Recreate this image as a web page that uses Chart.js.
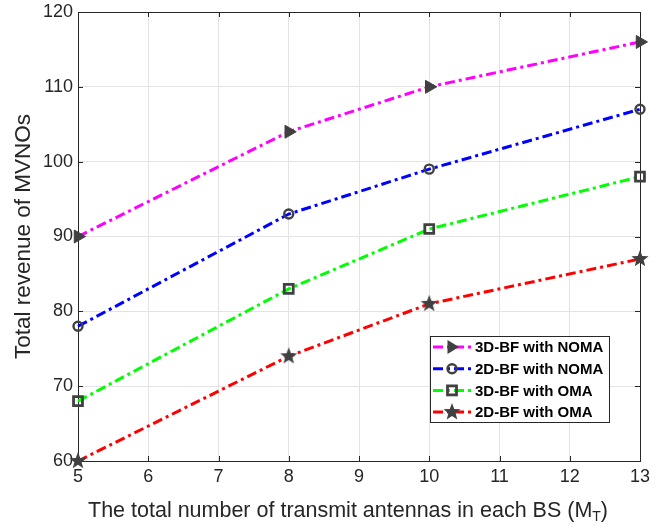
<!DOCTYPE html>
<html><head><meta charset="utf-8">
<script src="https://cdn.jsdelivr.net/npm/chart.js@4/dist/chart.umd.min.js"></script>
<style>html,body{margin:0;padding:0;background:#fff;}#wrap{width:670px;height:525px;}</style>
</head><body><div id="wrap"><canvas id="c" width="670" height="525"></canvas></div>
<script>
const antennas = [5, 8, 10, 13];
const bf3dNoma = [90, 104, 110, 116];
const bf2dNoma = [78, 93, 99, 107];
const bf3dOma = [68, 83, 91, 98];
const bf2dOma = [60, 74, 81, 87];
const seriesLabels = ['3D-BF with NOMA', '2D-BF with NOMA', '3D-BF with OMA', '2D-BF with OMA'];
const xTicks = [5, 6, 7, 8, 9, 10, 11, 12, 13];
const yTicks = [60, 70, 80, 90, 100, 110, 120];
const yTitle = 'Total revenue of MVNOs';
const xTitleMain = 'The total number of transmit antennas in each BS (M';
const xTitleSub = 'T';
const xTitleEnd = ')';

const MK = '#404040';
const FONT = '"Liberation Sans", Arial, sans-serif';

function starCanvas(R, r) {
  const s = Math.ceil(R * 2 + 2);
  const cv = document.createElement('canvas');
  cv.width = s; cv.height = s;
  const g = cv.getContext('2d');
  drawStar(g, s / 2, s / 2, R, r);
  return cv;
}
function drawStar(g, cx, cy, R, r) {
  g.beginPath();
  for (let i = 0; i < 10; i++) {
    const a = -Math.PI / 2 + i * Math.PI / 5;
    const rr = i % 2 === 0 ? R : r;
    const x = cx + rr * Math.cos(a), y = cy + rr * Math.sin(a);
    if (i === 0) g.moveTo(x, y); else g.lineTo(x, y);
  }
  g.closePath();
  g.fillStyle = MK;
  g.fill();
}
const star = starCanvas(9, 3.8);

function pts(arr) { return antennas.map((x, i) => ({x: x, y: arr[i]})); }

const colors = ['#ff00ff', '#0000ff', '#00ff00', '#ff0000'];
const dash = [10, 4, 3, 4];

const datasets = [
  {label: seriesLabels[0], data: pts(bf3dNoma), borderColor: colors[0], pointStyle: 'triangle', rotation: 90, pointRadius: 7.5, pointBackgroundColor: MK, pointBorderColor: MK, pointBorderWidth: 1},
  {label: seriesLabels[1], data: pts(bf2dNoma), borderColor: colors[1], pointStyle: 'circle', pointRadius: 4.5, pointBackgroundColor: 'rgba(0,0,0,0)', pointBorderColor: MK, pointBorderWidth: 2.4},
  {label: seriesLabels[2], data: pts(bf3dOma), borderColor: colors[2], pointStyle: 'rect', pointRadius: 6.3, pointBackgroundColor: 'rgba(0,0,0,0)', pointBorderColor: MK, pointBorderWidth: 2.8},
  {label: seriesLabels[3], data: pts(bf2dOma), borderColor: colors[3], pointStyle: star, pointRadius: 9, pointBackgroundColor: MK, pointBorderColor: MK}
].map(d => Object.assign({borderWidth: 3, borderDash: dash, fill: false, tension: 0, clip: false, pointHoverRadius: d.pointRadius}, d));

const framePlugin = {
  id: 'frame',
  beforeDatasetsDraw(chart) {
    const {ctx, chartArea: a, scales} = chart;
    ctx.save();
    ctx.strokeStyle = '#262626';
    ctx.lineWidth = 1;
    ctx.strokeRect(a.left + 0.5, a.top + 0.5, a.right - a.left, a.bottom - a.top);
    ctx.beginPath();
    xTicks.forEach(v => {
      const x = Math.round(scales.x.getPixelForValue(v)) + 0.5;
      ctx.moveTo(x, a.bottom); ctx.lineTo(x, a.bottom - 5);
      ctx.moveTo(x, a.top); ctx.lineTo(x, a.top + 5);
    });
    yTicks.forEach(v => {
      const y = Math.round(scales.y.getPixelForValue(v)) + 0.5;
      ctx.moveTo(a.left, y); ctx.lineTo(a.left + 5, y);
      ctx.moveTo(a.right, y); ctx.lineTo(a.right - 5, y);
    });
    ctx.stroke();
    ctx.restore();
  },
  afterDraw(chart) {
    const {ctx} = chart;
    ctx.save();
    // x title with subscript
    ctx.fillStyle = '#262626';
    ctx.textBaseline = 'alphabetic';
    ctx.font = '21.5px ' + FONT;
    const w1 = ctx.measureText(xTitleMain).width;
    ctx.font = '14px ' + FONT;
    const w2 = ctx.measureText(xTitleSub).width;
    const x0 = 88;
    const yb = 517;
    ctx.textAlign = 'left';
    ctx.font = '21.5px ' + FONT;
    ctx.fillText(xTitleMain, x0, yb);
    ctx.font = '14px ' + FONT;
    ctx.fillText(xTitleSub, x0 + w1, yb + 4);
    ctx.font = '21.5px ' + FONT;
    ctx.fillText(xTitleEnd, x0 + w1 + w2, yb);

    // legend
    const lx = 430, ly = 336, lw = 179, lh = 86;
    ctx.fillStyle = '#ffffff';
    ctx.fillRect(lx, ly, lw, lh);
    ctx.strokeStyle = '#262626';
    ctx.lineWidth = 1;
    ctx.strokeRect(lx + 0.5, ly + 0.5, lw, lh);
    chart.data.datasets.forEach((ds, i) => {
      const y = ly + 11 + i * 21.7;
      ctx.save();
      ctx.strokeStyle = ds.borderColor;
      ctx.lineWidth = 3;
      ctx.setLineDash(dash);
      ctx.beginPath();
      ctx.moveTo(433, y); ctx.lineTo(471, y);
      ctx.stroke();
      ctx.restore();
      const mx = 452;
      ctx.save();
      if (i === 0) {
        ctx.fillStyle = MK;
        ctx.beginPath();
        ctx.moveTo(mx + 7, y); ctx.lineTo(mx - 4.5, y - 7); ctx.lineTo(mx - 4.5, y + 7); ctx.closePath();
        ctx.fill();
      } else if (i === 1) {
        ctx.strokeStyle = MK; ctx.lineWidth = 2.4;
        ctx.beginPath(); ctx.arc(mx, y, 4.5, 0, Math.PI * 2); ctx.stroke();
      } else if (i === 2) {
        ctx.strokeStyle = MK; ctx.lineWidth = 2.8;
        ctx.strokeRect(mx - 4.5, y - 4.5, 9, 9);
      } else {
        drawStar(ctx, mx, y, 9, 3.8);
      }
      ctx.restore();
      ctx.fillStyle = '#000';
      ctx.font = 'bold 15px ' + FONT;
      ctx.textAlign = 'left';
      ctx.textBaseline = 'middle';
      ctx.fillText(ds.label, 475, y + 1);
    });
    ctx.restore();
  }
};

new Chart(document.getElementById('c'), {
  type: 'line',
  data: {datasets: datasets},
  options: {
    responsive: false,
    animation: false,
    devicePixelRatio: 1,
    layout: {padding: {top: 8, right: 30, left: 0, bottom: 0}},
    plugins: {legend: {display: false}, tooltip: {enabled: false}},
    scales: {
      x: {
        type: 'linear', min: 5, max: 13,
        afterBuildTicks: s => { s.ticks = xTicks.map(v => ({value: v})); },
        afterFit: s => { s.height = 64; s.paddingLeft = 0; s.paddingRight = 0; },
        grid: {color: '#e3e3e3', drawTicks: false, lineWidth: 1},
        border: {display: false},
        ticks: {padding: 5, color: '#262626', font: {family: FONT, size: 18}, maxRotation: 0}
      },
      y: {
        min: 60, max: 120,
        afterBuildTicks: s => { s.ticks = yTicks.map(v => ({value: v})); },
        afterFit: s => { s.width = 78; s.paddingTop = 0; s.paddingBottom = 0; },
        grid: {color: '#e3e3e3', drawTicks: false, lineWidth: 1},
        border: {display: false},
        ticks: {padding: 5, color: '#262626', font: {family: FONT, size: 18}},
        title: {display: true, text: yTitle, color: '#262626', font: {family: FONT, size: 22.5}, padding: {top: 10, bottom: 0}}
      }
    }
  },
  plugins: [framePlugin]
});
</script>
</body></html>
